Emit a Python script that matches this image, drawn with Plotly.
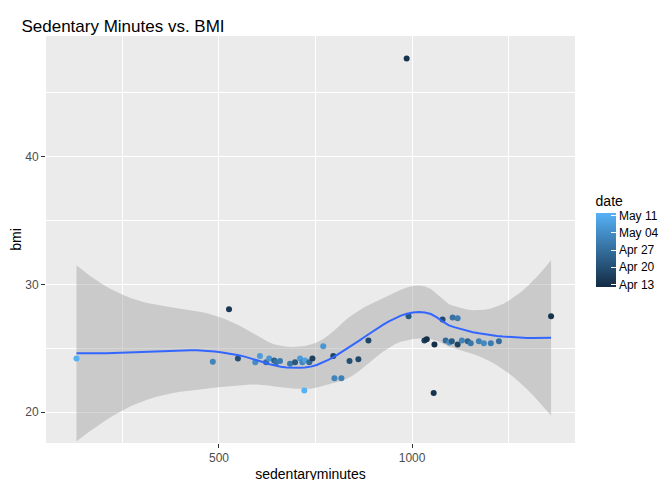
import numpy as np
import plotly.graph_objects as go

# sedentary minutes, bmi, day offset from Apr 12
sedentary = [131, 484, 526, 549, 594, 606, 622, 630, 643, 648, 658, 684, 697, 710, 716, 723,
             734, 742, 721, 770, 796, 799, 817, 838, 861, 887, 986, 991, 1032, 1038, 1056,
             1058, 1079, 1087, 1097, 1103, 1105, 1118, 1118, 1129, 1144, 1152, 1173, 1186,
             1204, 1225, 1360]
bmi = [24.2, 23.95, 28.05, 24.2, 23.9, 24.4, 23.9, 24.2, 24.05, 23.9, 24.0, 23.8, 23.9, 24.2,
       23.9, 24.05, 23.9, 24.2, 21.7, 25.15, 24.4, 22.65, 22.65, 24.0, 24.15, 25.6, 47.65,
       27.5, 25.6, 25.7, 21.5, 25.3, 27.25, 25.6, 25.45, 25.55, 27.4, 27.35, 25.3, 25.6,
       25.55, 25.4, 25.55, 25.4, 25.4, 25.55, 27.5]
day = [30, 20, 3, 8, 22, 25, 15, 24, 12, 16, 18, 17, 10, 25, 20, 26, 14, 5, 30, 24, 6, 20,
       19, 8, 7, 6, 2, 10, 4, 1, 2, 1, 7, 14, 22, 10, 16, 18, 5, 20, 12, 17, 19, 21, 18, 15, 2]
date_ticks = [1, 8, 15, 22, 29]
date_labels = ["Apr 13", "Apr 20", "Apr 27", "May 04", "May 11"]

x = np.array(sedentary, float)
y = np.array(bmi, float)
n = len(x)
span = 0.75


def local_fit(x0):
    q = int(np.floor(n * span))
    d = np.abs(x - x0)
    h = np.sort(d)[q - 1]
    u = np.clip(d / h, 0, 1)
    w = (1 - u ** 3) ** 3
    X = np.vstack([np.ones(n), x - x0, (x - x0) ** 2]).T
    W = np.diag(w)
    A = np.linalg.pinv(X.T @ W @ X) @ X.T @ W
    return A[0], A[1]


# kd-tree vertices like R's loess(surface = "interpolate")
fc = int(np.floor(n * span * 0.2))
xsorted = np.sort(x)


def split(lo, hi, pts):
    if len(pts) <= fc:
        return [lo, hi]
    m = np.median(pts)
    return split(lo, m, pts[pts <= m]) + split(m, hi, pts[pts > m])


verts = np.unique(split(x.min(), x.max(), xsorted))
vl0 = np.array([local_fit(v)[0] for v in verts])
vl1 = np.array([local_fit(v)[1] for v in verts])


def interp_weights(x0):
    i = min(np.searchsorted(verts, x0, side="right") - 1, len(verts) - 2)
    a, b = verts[i], verts[i + 1]
    hh = b - a
    s = (x0 - a) / hh
    h00 = 2 * s ** 3 - 3 * s ** 2 + 1
    h10 = s ** 3 - 2 * s ** 2 + s
    h01 = -2 * s ** 3 + 3 * s ** 2
    h11 = s ** 3 - s ** 2
    return h00 * vl0[i] + h10 * hh * vl1[i] + h01 * vl0[i + 1] + h11 * hh * vl1[i + 1]


L = np.array([interp_weights(xi) for xi in x])
res = y - L @ y
M = (np.eye(n) - L).T @ (np.eye(n) - L)
sigma = np.sqrt(res @ res / np.trace(M))

xs = np.linspace(x.min(), x.max(), 80)
ls = [interp_weights(x0) for x0 in xs]
fit = np.array([l @ y for l in ls])
se = np.array([sigma * np.sqrt(l @ l) for l in ls])
t = 2.02

fig = go.Figure()
fig.add_trace(go.Scatter(x=np.concatenate([xs, xs[::-1]]),
                         y=np.concatenate([fit + t * se, (fit - t * se)[::-1]]),
                         fill="toself", fillcolor="rgba(153,153,153,0.4)",
                         line=dict(width=0), hoverinfo="skip", showlegend=False))
fig.add_trace(go.Scatter(x=sedentary, y=bmi, mode="markers", showlegend=False,
                         marker=dict(size=6, color=day, cmin=0, cmax=30,
                                     colorscale=[[0, "#132B43"], [1, "#56B1F7"]],
                                     colorbar=dict(title=dict(text="date", font=dict(size=14)),
                                                   tickvals=date_ticks, ticktext=date_labels,
                                                   len=115, lenmode="pixels", thickness=20,
                                                   x=1.02, y=0.5, yanchor="middle",
                                                   outlinewidth=0, ticks="inside",
                                                   ticklen=5, tickcolor="white",
                                                   tickfont=dict(size=12)))))
fig.add_trace(go.Scatter(x=xs, y=fit, mode="lines", line=dict(color="#3366FF", width=2),
                         showlegend=False))

axis = dict(showgrid=True, gridcolor="white", gridwidth=1.4, zeroline=False, automargin=False,
            ticks="outside", ticklen=4, tickcolor="#333333",
            tickfont=dict(size=12, color="#4D4D4D"))
fig.update_layout(
    width=672, height=480,
    title=dict(text="Sedentary Minutes vs. BMI", x=0.02, y=0.975, font=dict(size=17)),
    font=dict(family="Liberation Sans, Arial", color="black"),
    paper_bgcolor="white", plot_bgcolor="#EBEBEB",
    margin=dict(l=38, r=105, t=28, b=45, autoexpand=False),
    xaxis=dict(axis, range=[52, 1422], tickvals=[500, 1000],
               minor=dict(showgrid=True, gridcolor="white", gridwidth=0.6, tickvals=[250, 750, 1250], ticks=""),
               title=dict(text="sedentaryminutes", font=dict(size=14), standoff=4)),
    yaxis=dict(axis, range=[17.6, 49.4], tickvals=[20, 30, 40],
               minor=dict(showgrid=True, gridcolor="white", gridwidth=0.6, tickvals=[25, 35, 45], ticks=""),
               title=dict(text="bmi", font=dict(size=14), standoff=4)),
)
fig.write_html("out.html")
